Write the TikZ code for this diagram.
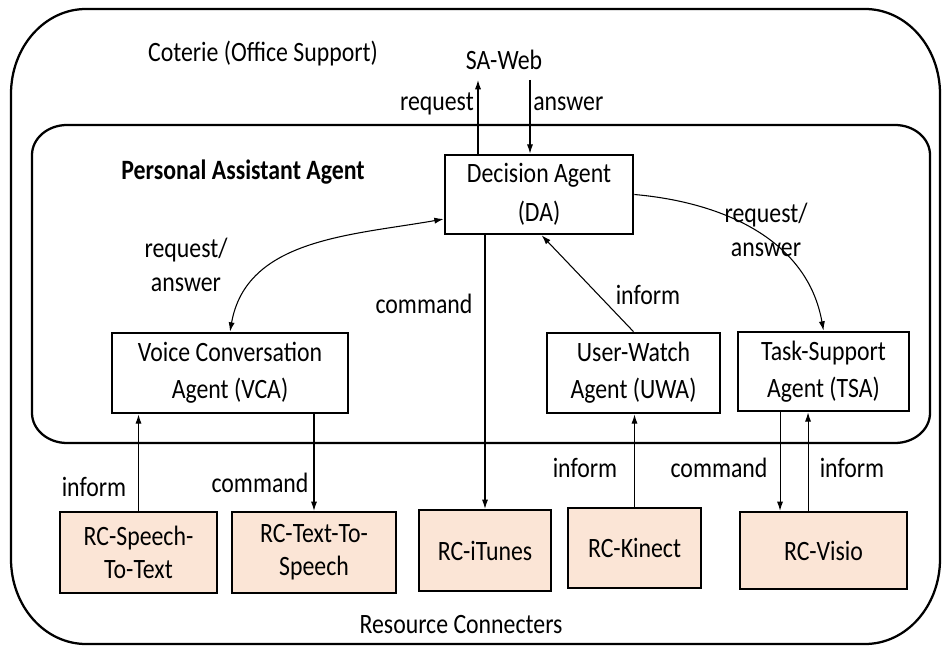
\documentclass[tikz,border=0pt]{standalone}
\usepackage{fontspec}
\setmainfont{Carlito}[FakeStretch=0.85]
\usetikzlibrary{arrows.meta}
\definecolor{rcfill}{HTML}{FBE5D6}
\tikzset{
  txt/.style={font=\fontsize{21}{26}\selectfont, align=center, inner sep=0pt},
  agent/.style={txt, draw, line width=2pt, font=\fontsize{21}{28}\selectfont},
  rcbox/.style={txt, draw, line width=1.7pt, fill=rcfill, font=\fontsize{21}{25}\selectfont},
  frame/.style={line width=1.7pt},
  conn/.style={line width=0.8pt, -{Latex[length=7pt,width=4.6pt]}},
  dconn/.style={line width=0.8pt, {Latex[length=7pt,width=4.6pt]}-{Latex[length=7pt,width=4.6pt]}},
}
\begin{document}
\begin{tikzpicture}[x=0.75pt,y=-0.75pt]
\useasboundingbox (0,0) rectangle (942,648);

% outer frame: Coterie
\draw[frame] (86,9) -- (865,9) .. controls (906.4,9) and (940,46.9) .. (940,94)
  -- (940,559) .. controls (940,606.1) and (906.4,644) .. (865,644)
  -- (86,644) .. controls (44.6,644) and (11,606.1) .. (11,559)
  -- (11,94) .. controls (11,46.9) and (44.6,9) .. (86,9) -- cycle;

% inner frame: personal assistant agent
\draw[frame] (67,125) -- (895,125) .. controls (914.3,125) and (930,138.4) .. (930,155)
  -- (930,413) .. controls (930,429.6) and (914.3,443) .. (895,443)
  -- (67,443) .. controls (47.7,443) and (32,429.6) .. (32,413)
  -- (32,155) .. controls (32,138.4) and (47.7,125) .. (67,125) -- cycle;

% titles
\node[txt] (coterie) at (263,54) {Coterie (Office Support)};
\node[txt] (saweb) at (504,60) {SA-Web};
\node[txt, font=\fontsize{21}{26}\selectfont\bfseries] (paa) at (243,172) {Personal Assistant Agent};
\node[txt] (rescon) at (461,625) {Resource Connecters};

% agents
\node[agent, minimum width=141pt, minimum height=59.25pt, font=\fontsize{21}{29}\selectfont] (da) at (539,194.5) {Decision Agent\\(DA)};
\node[agent, minimum width=177pt, minimum height=60pt] (vca) at (230,373) {Voice Conversation\\Agent (VCA)};
\node[agent, minimum width=129.75pt, minimum height=60pt] (uwa) at (633.5,373) {User-Watch\\Agent (UWA)};
\node[agent, minimum width=128.25pt, minimum height=59.25pt] (tsa) at (823.5,371.5) {Task-Support\\Agent (TSA)};

% resource connecters
\node[rcbox, minimum width=117.75pt, minimum height=60.75pt] (stt) at (138.5,552.5) {RC-Speech-\\To-Text};
\node[rcbox, minimum width=123pt, minimum height=60.75pt] (tts) at (314,552.5) {RC-Text-To-\\Speech};
\node[rcbox, minimum width=99pt, minimum height=60.75pt] (itunes) at (485,550.5) {RC-iTunes};
\node[rcbox, minimum width=99.75pt, minimum height=60pt] (kinect) at (634.5,548) {RC-Kinect};
\node[rcbox, minimum width=125.25pt, minimum height=57.75pt] (visio) at (823.5,550.5) {RC-Visio};

% SA-Web exchange
\coordinate (reqEnd) at (478,80);
\coordinate (ansStart) at (530,80);
\draw[conn] (reqEnd |- da.north) -- (reqEnd);
\draw[conn] (ansStart) -- (ansStart |- da.north);
\node[txt, anchor=east] (reqlbl) at (474,104) {request};
\node[txt, anchor=west] (anslbl) at (533,104) {answer};

% agent interactions
\draw[dconn] (vca.north) to[out=80,in=190] ([yshift=-18.4pt]da.west);
\node[txt] (ralbl1) at (186,265) {request/\\answer};
\draw[conn] (da.east) to[out=-5,in=100] (tsa.north);
\node[txt] (ralbl2) at (766,230) {request/\\answer};
\draw[conn] (itunes.north |- da.south) -- (itunes.north);
\node[txt] (cmdlbl1) at (424,304) {command};
\draw[conn] (uwa.north) -- ([xshift=2pt]da.south);
\node[txt] (inflbl1) at (648,295) {inform};

% connecter links
\draw[conn] (stt.north) -- (stt.north |- vca.south);
\node[txt] (inflbl2) at (94,487) {inform};
\draw[conn] (tts.north |- vca.south) -- (tts.north);
\node[txt] (cmdlbl2) at (260,483) {command};
\draw[conn] (kinect.north) -- (kinect.north |- uwa.south);
\node[txt] (inflbl3) at (585,468) {inform};
\draw[conn] ([xshift=-32.6pt]tsa.south) -- ([xshift=-32.6pt]visio.north);
\node[txt] (cmdlbl3) at (719,468) {command};
\draw[conn] ([xshift=-11.6pt]visio.north) -- ([xshift=-11.6pt]tsa.south);
\node[txt] (inflbl4) at (852,468) {inform};
\end{tikzpicture}
\end{document}
